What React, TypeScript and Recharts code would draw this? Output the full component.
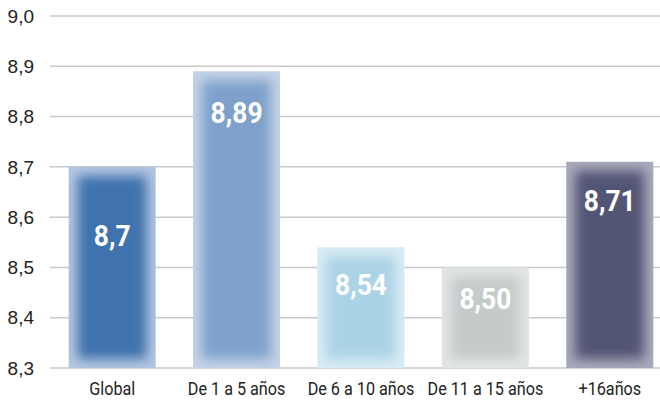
import { BarChart, Bar, XAxis, YAxis, CartesianGrid } from "recharts";

// Puntuación media por antigüedad
const categories = ["Global", "De 1 a 5 años", "De 6 a 10 años", "De 11 a 15 años", "+16años"];
const scores = [8.7, 8.89, 8.54, 8.5, 8.71];
const valueLabels = ["8,7", "8,89", "8,54", "8,50", "8,71"];
const yTicks = [8.3, 8.4, 8.5, 8.6, 8.7, 8.8, 8.9, 9.0];

// styling per bar (core colour, soft edge colour, label drop from bar top)
const coreColors = ["#4172ae", "#7ea1cb", "#abd3e6", "#c5cbcb", "#525474"];
const edgeColors = ["#b4c7e0", "#c3d3e7", "#d8ebf4", "#e2e5e5", "#a9aabb"];
const labelDy = [69, 42, 38, 31, 39];

const data = categories.map((name, i) => ({ name, value: scores[i], label: valueLabels[i] }));

const fmt = (v: number) => v.toFixed(1).replace(".", ",");

function SoftBar(props: any) {
  const { x, y, width, height, index } = props;
  const inset = 9;
  const id = `clip-${index}`;
  const cx = x + width / 2;
  const cy = y + labelDy[index];
  return (
    <g>
      <defs>
        <clipPath id={id}>
          <rect x={x} y={y} width={width} height={height} />
        </clipPath>
      </defs>
      <rect x={x} y={y} width={width} height={height} fill={edgeColors[index]} />
      <g clipPath={`url(#${id})`}>
        <rect
          x={x + inset}
          y={y + inset}
          width={Math.max(0, width - inset * 2)}
          height={Math.max(0, height - inset * 2)}
          fill={coreColors[index]}
          filter="url(#soft)"
        />
      </g>
      {/* condensed look: squeeze Roboto horizontally */}
      <g transform={`translate(${cx},${cy}) scale(0.88,1)`}>
        <text
          x={0}
          y={0}
          textAnchor="middle"
          dominantBaseline="central"
          fill="#ffffff"
          fontWeight="bold"
          fontSize={30}
          fontFamily="Roboto, sans-serif"
        >
          {props.payload.label}
        </text>
      </g>
    </g>
  );
}

function XTick(props: any) {
  const { x, y, payload } = props;
  return (
    <g transform={`translate(${x},${y + 19}) scale(0.9,1)`}>
      <text textAnchor="middle" fill="#222" fontSize={18} fontFamily="Roboto, sans-serif">
        {payload.value}
      </text>
    </g>
  );
}

export default function App() {
  return (
    <div style={{ position: "absolute", left: 0, top: 0, width: 660, height: 401, overflow: "hidden", background: "#fff" }}>
      <BarChart
        width={672}
        height={401}
        data={data}
        margin={{ top: 16, right: 0, bottom: 0, left: 0 }}
        barCategoryGap="15%"
      >
        <defs>
          <filter id="soft" x="-30%" y="-30%" width="160%" height="160%">
            <feGaussianBlur stdDeviation="6" />
          </filter>
        </defs>
        <CartesianGrid vertical={false} stroke="#c9c9c9" strokeWidth={1.5} />
        <XAxis
          dataKey="name"
          height={33}
          axisLine={false}
          tickLine={false}
          interval={0}
          tick={XTick}
        />
        <YAxis
          domain={[8.3, 9.0]}
          ticks={yTicks}
          tickFormatter={fmt}
          width={50}
          axisLine={false}
          tickLine={false}
          tickMargin={10}
          tick={{ fill: "#222", fontSize: 19, fontFamily: "'Liberation Sans', Arial, sans-serif" }}
        />
        <Bar dataKey="value" shape={SoftBar} isAnimationActive={false} />
      </BarChart>
    </div>
  );
}
